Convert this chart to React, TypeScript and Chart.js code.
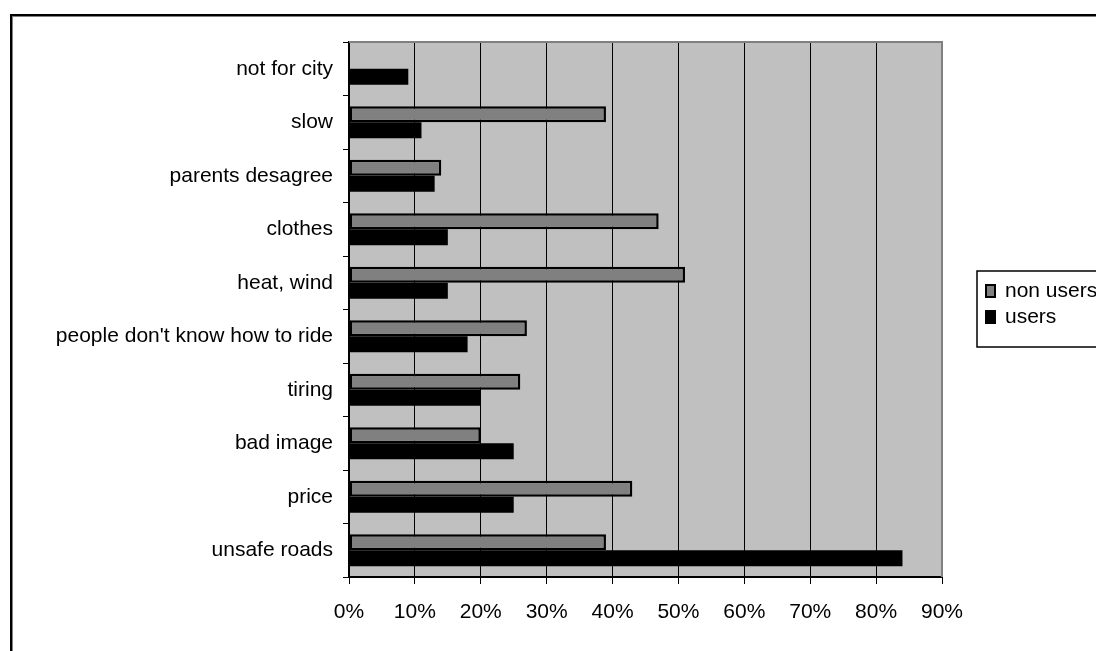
import React, { useEffect, useRef } from "react";
import { Chart, registerables } from "chart.js";

Chart.register(...registerables);

const categories = [
  "not for city",
  "slow",
  "parents desagree",
  "clothes",
  "heat, wind",
  "people don't know how to ride",
  "tiring",
  "bad image",
  "price",
  "unsafe roads",
];
const nonUsers = [0, 39, 14, 47, 51, 27, 26, 20, 43, 39];
const users = [9, 11, 13, 15, 15, 18, 20, 25, 25, 84];
const seriesNames = ["non users", "users"];
const xTickMax = 90;
const xTickStep = 10;

const FONT = "'Liberation Sans', Arial, sans-serif";

const plotPlugin = {
  id: "plotDecor",
  beforeDraw(chart: any) {
    const { ctx, chartArea } = chart;
    ctx.save();
    ctx.fillStyle = "#c0c0c0";
    ctx.fillRect(chartArea.left, chartArea.top, chartArea.right - chartArea.left, chartArea.bottom - chartArea.top);
    ctx.restore();
  },
  afterDraw(chart: any) {
    const { ctx, chartArea } = chart;
    ctx.save();
    ctx.strokeStyle = "#808080";
    ctx.lineWidth = 2;
    ctx.beginPath();
    ctx.moveTo(chartArea.left, chartArea.top);
    ctx.lineTo(chartArea.right, chartArea.top);
    ctx.lineTo(chartArea.right, chartArea.bottom);
    ctx.stroke();

    // legend
    const lx = chartArea.right + 35;
    const ly = chartArea.top + 229;
    ctx.strokeStyle = "#000";
    ctx.lineWidth = 1.5;
    ctx.strokeRect(lx, ly, 200, 76);
    const ds = chart.data.datasets;
    ds.forEach((d: any, i: number) => {
      const cy = ly + 20 + i * 26;
      ctx.fillStyle = "#000";
      ctx.fillRect(lx + 8, cy - 7, 11, 14);
      ctx.fillStyle = d.backgroundColor;
      ctx.fillRect(lx + 10, cy - 5, 7, 10);
      ctx.fillStyle = "#000";
      ctx.font = `21px ${FONT}`;
      ctx.textBaseline = "middle";
      ctx.textAlign = "left";
      ctx.fillText(d.label, lx + 28, cy);
    });
    ctx.restore();
  },
};

export default function App() {
  const ref = useRef<HTMLCanvasElement | null>(null);

  useEffect(() => {
    if (!ref.current) return;
    const chart = new Chart(ref.current, {
      type: "bar",
      data: {
        labels: categories,
        datasets: [
          {
            label: seriesNames[0],
            data: nonUsers,
            backgroundColor: "#808080",
            borderColor: "#000",
            borderWidth: 2.5,
            borderSkipped: false,
            barPercentage: 1.0,
            categoryPercentage: 0.6,
          },
          {
            label: seriesNames[1],
            data: users,
            backgroundColor: "#000",
            borderColor: "#000",
            borderWidth: 0,
            barPercentage: 1.0,
            categoryPercentage: 0.6,
          },
        ],
      },
      options: {
        indexAxis: "y",
        animation: false,
        responsive: false,
        maintainAspectRatio: false,
        devicePixelRatio: 1,
        layout: { padding: { left: 0, top: 34, right: 162, bottom: 0 } },
        plugins: {
          legend: { display: false },
          tooltip: { enabled: false },
        },
        scales: {
          x: {
            min: 0,
            max: xTickMax,
            ticks: {
              stepSize: xTickStep,
              color: "#000",
              font: { family: FONT, size: 21 },
              padding: 16,
              callback: (v: any) => v + "%",
            },
            grid: {
              color: "#000",
              lineWidth: 1,
              drawTicks: true,
              tickLength: 7,
              tickColor: "#000",
            },
            border: { display: true, color: "#000", width: 2 },
            afterFit: (s: any) => {
              s.height = 74;
            },
          },
          y: {
            ticks: {
              color: "#000",
              font: { family: FONT, size: 21 },
              padding: 10,
            },
            grid: {
              display: true,
              drawOnChartArea: false,
              drawTicks: true,
              tickLength: 6,
              tickColor: "#000",
              color: "#000",
              offset: true,
            },
            border: { display: true, color: "#000", width: 2 },
            afterFit: (s: any) => {
              s.width = 341;
            },
          },
        },
      },
      plugins: [plotPlugin],
    });
    return () => chart.destroy();
  }, []);

  return (
    <div style={{ position: "relative", width: 1096, height: 643, overflow: "hidden" }}>
      <div
        style={{
          position: "absolute",
          left: 2,
          top: 6,
          width: 1200,
          height: 800,
          borderLeft: "2px solid #000",
          borderTop: "2px solid #000",
          boxShadow: "inset 1px 1px 0 #808080",
        }}
      />
      <canvas
        ref={ref}
        width={1096}
        height={643}
        style={{ position: "absolute", left: 0, top: 0, width: 1096, height: 643 }}
      />
    </div>
  );
}
